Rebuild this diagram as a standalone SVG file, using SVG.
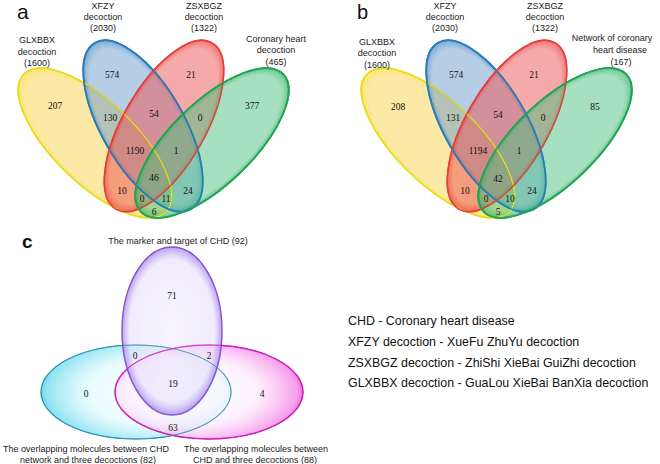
<svg xmlns="http://www.w3.org/2000/svg" width="660" height="464" viewBox="0 0 660 464">
<defs>
<style>
.lbl{font-family:"Liberation Sans",Arial,sans-serif;font-size:9px;fill:#222;text-anchor:middle}
.num{font-family:"Liberation Serif","Times New Roman",serif;font-size:9.5px;fill:#111;text-anchor:middle}
.leg{font-family:"Liberation Sans",Arial,sans-serif;font-size:12.4px;fill:#111}
.pl{font-family:"Liberation Sans",Arial,sans-serif;fill:#111}
.ye{fill:url(#gY);stroke:#e6dc1e;stroke-width:1.6}
.bl{fill:url(#gB);stroke:#2a7db8;stroke-width:1.8}
.re{fill:url(#gR);stroke:#e2403c;stroke-width:1.6}
.gr{fill:url(#gG);stroke:#22a455;stroke-width:1.8}
.cy{fill:url(#gC);stroke:#2fa6c4;stroke-width:1.2}
.ma{fill:url(#gM);stroke:#cc22bb;stroke-width:1.4}
.pu{fill:url(#gP);stroke:#8552d4;stroke-width:1.4}
</style>
<radialGradient id="gY"><stop offset="0" stop-color="#fbd34d" stop-opacity="0.5"/><stop offset="0.9" stop-color="#fbd34d" stop-opacity="0.5"/><stop offset="1" stop-color="#f8e040" stop-opacity="0.75"/></radialGradient>
<radialGradient id="gB"><stop offset="0" stop-color="#6b9bcb" stop-opacity="0.5"/><stop offset="0.9" stop-color="#6b9bcb" stop-opacity="0.5"/><stop offset="1" stop-color="#3f86c4" stop-opacity="0.7"/></radialGradient>
<radialGradient id="gR"><stop offset="0" stop-color="#ed5353" stop-opacity="0.5"/><stop offset="0.9" stop-color="#ed5353" stop-opacity="0.5"/><stop offset="1" stop-color="#e83a3a" stop-opacity="0.7"/></radialGradient>
<radialGradient id="gG"><stop offset="0" stop-color="#4dc181" stop-opacity="0.5"/><stop offset="0.9" stop-color="#4dc181" stop-opacity="0.5"/><stop offset="1" stop-color="#2cb060" stop-opacity="0.7"/></radialGradient>
<radialGradient id="gC" cx="0.6" cy="0.5" r="0.6"><stop offset="0" stop-color="#ffffff" stop-opacity="0.3"/><stop offset="0.6" stop-color="#d8f8fc" stop-opacity="0.6"/><stop offset="0.95" stop-color="#7fe0f0" stop-opacity="0.85"/><stop offset="1" stop-color="#5cd2ea" stop-opacity="0.9"/></radialGradient>
<radialGradient id="gM" cx="0.4" cy="0.5" r="0.6"><stop offset="0" stop-color="#ffffff" stop-opacity="0.3"/><stop offset="0.6" stop-color="#fde4fa" stop-opacity="0.6"/><stop offset="0.95" stop-color="#f48ee8" stop-opacity="0.85"/><stop offset="1" stop-color="#e860dc" stop-opacity="0.9"/></radialGradient>
<radialGradient id="gP"><stop offset="0" stop-color="#f3effe" stop-opacity="0.6"/><stop offset="0.85" stop-color="#e6defc" stop-opacity="0.6"/><stop offset="1" stop-color="#a98ae8" stop-opacity="0.8"/></radialGradient>
</defs>
<rect width="660" height="464" fill="#fff"/>

<!-- panel a -->
<text class="pl" x="17" y="19" font-size="21">a</text>
<g id="a-glxbbx">
<ellipse class="ye" cx="95" cy="143" rx="99" ry="41" transform="rotate(44 95 143)"/>
</g>
<g id="a-xfzy">
<ellipse class="bl" cx="143" cy="126" rx="96" ry="41" transform="rotate(60 143 126)"/>
</g>
<g id="a-zsxbgz">
<ellipse class="re" cx="164" cy="126" rx="96" ry="41" transform="rotate(-60 164 126)"/>
</g>
<g id="a-chd">
<ellipse class="gr" cx="212" cy="143" rx="99" ry="41" transform="rotate(-44 212 143)"/>
</g>
<g id="a-outlines" fill="none">
<ellipse cx="95" cy="143" rx="99" ry="41" transform="rotate(44 95 143)" fill="none" stroke="#e6dc1e" stroke-width="1.2"/>
<ellipse cx="143" cy="126" rx="96" ry="41" transform="rotate(60 143 126)" fill="none" stroke="#2a7db8" stroke-width="1.6"/>
<ellipse cx="164" cy="126" rx="96" ry="41" transform="rotate(-60 164 126)" fill="none" stroke="#e2403c" stroke-width="1.2"/>
<ellipse cx="212" cy="143" rx="99" ry="41" transform="rotate(-44 212 143)" fill="none" stroke="#22a455" stroke-width="1.4"/>
</g>
<g id="a-labels">
<text class="lbl" x="103" y="8.5">XFZY</text><text class="lbl" x="103" y="19.5">decoction</text><text class="lbl" x="103" y="31">(2030)</text>
<text class="lbl" x="204" y="8.5">ZSXBGZ</text><text class="lbl" x="204" y="19.5">decoction</text><text class="lbl" x="204" y="31">(1322)</text>
<text class="lbl" x="37" y="43">GLXBBX</text><text class="lbl" x="37" y="54.5">decoction</text><text class="lbl" x="37" y="66">(1600)</text>
<text class="lbl" x="276" y="41.5">Coronary heart</text><text class="lbl" x="276" y="53">decoction</text><text class="lbl" x="276" y="64.5">(465)</text>
</g>
<g id="a-numbers">
<text class="num" x="55" y="108.5">207</text>
<text class="num" x="112" y="77.5">574</text>
<text class="num" x="191" y="77.5">21</text>
<text class="num" x="252" y="108.5">377</text>
<text class="num" x="110" y="120.5">130</text>
<text class="num" x="154" y="116.5">54</text>
<text class="num" x="200" y="120.5">0</text>
<text class="num" x="135" y="153.5">1190</text>
<text class="num" x="176" y="153.5">1</text>
<text class="num" x="154" y="180.5">46</text>
<text class="num" x="122" y="193.5">10</text>
<text class="num" x="188" y="193.5">24</text>
<text class="num" x="142" y="201.5">0</text>
<text class="num" x="166" y="201.5">11</text>
<text class="num" x="154" y="214.5">6</text>
</g>

<!-- panel b -->
<text class="pl" x="357" y="19" font-size="20">b</text>
<g id="b-glxbbx">
<ellipse class="ye" cx="438" cy="143" rx="99" ry="41" transform="rotate(44 438 143)"/>
</g>
<g id="b-xfzy">
<ellipse class="bl" cx="486" cy="126" rx="96" ry="41" transform="rotate(60 486 126)"/>
</g>
<g id="b-zsxbgz">
<ellipse class="re" cx="507" cy="126" rx="96" ry="41" transform="rotate(-60 507 126)"/>
</g>
<g id="b-chd">
<ellipse class="gr" cx="555" cy="143" rx="99" ry="41" transform="rotate(-44 555 143)"/>
</g>
<g id="b-outlines" fill="none">
<ellipse cx="438" cy="143" rx="99" ry="41" transform="rotate(44 438 143)" fill="none" stroke="#e6dc1e" stroke-width="1.2"/>
<ellipse cx="486" cy="126" rx="96" ry="41" transform="rotate(60 486 126)" fill="none" stroke="#2a7db8" stroke-width="1.6"/>
<ellipse cx="507" cy="126" rx="96" ry="41" transform="rotate(-60 507 126)" fill="none" stroke="#e2403c" stroke-width="1.2"/>
<ellipse cx="555" cy="143" rx="99" ry="41" transform="rotate(-44 555 143)" fill="none" stroke="#22a455" stroke-width="1.4"/>
</g>
<g id="b-labels">
<text class="lbl" x="445" y="8.5">XFZY</text><text class="lbl" x="445" y="19.5">decoction</text><text class="lbl" x="445" y="31">(2030)</text>
<text class="lbl" x="545" y="8.5">ZSXBGZ</text><text class="lbl" x="545" y="19.5">decoction</text><text class="lbl" x="545" y="31">(1322)</text>
<text class="lbl" x="377" y="44.5">GLXBBX</text><text class="lbl" x="377" y="56">decoction</text><text class="lbl" x="377" y="67.5">(1600)</text>
<text class="lbl" x="612" y="41">Network of coronary</text><text class="lbl" x="620" y="53">heart disease</text><text class="lbl" x="621" y="64.5">(167)</text>
</g>
<g id="b-numbers">
<text class="num" x="398" y="109.5">208</text>
<text class="num" x="456" y="77.5">574</text>
<text class="num" x="534" y="77.5">21</text>
<text class="num" x="595" y="109.5">85</text>
<text class="num" x="453" y="120.5">131</text>
<text class="num" x="498" y="117.5">54</text>
<text class="num" x="543" y="120.5">0</text>
<text class="num" x="478" y="153.5">1194</text>
<text class="num" x="519" y="153.5">1</text>
<text class="num" x="498" y="181.5">42</text>
<text class="num" x="465" y="193.5">10</text>
<text class="num" x="532" y="193.5">24</text>
<text class="num" x="486" y="201.5">0</text>
<text class="num" x="510" y="201.5">10</text>
<text class="num" x="498" y="214.5">5</text>
</g>

<!-- panel c -->
<text class="pl" x="22" y="248" font-size="19" font-weight="bold">c</text>
<g id="c-overlap82">
<ellipse class="cy" cx="136" cy="392" rx="95" ry="47"/>
</g>
<g id="c-overlap88">
<ellipse class="ma" cx="209" cy="392" rx="94" ry="47"/>
</g>
<g id="c-marker">
<ellipse class="pu" cx="172" cy="331" rx="50" ry="84"/>
</g>
<g id="c-outlines">
<ellipse cx="136" cy="392" rx="95" ry="47" fill="none" stroke="#2f8fa8" stroke-width="1" stroke-opacity="0.8"/>
<ellipse cx="209" cy="392" rx="94" ry="47" fill="none" stroke="#cc22bb" stroke-width="1" stroke-opacity="0.8"/>
</g>
<g id="c-labels">
<text class="lbl" x="178" y="243.5">The marker and target of CHD (92)</text>
<text class="lbl" x="86" y="452">The overlapping molecules between CHD</text>
<text class="lbl" x="88" y="462.5">network and three decoctions (82)</text>
<text class="lbl" x="256" y="452">The overlapping molecules between</text>
<text class="lbl" x="255" y="462.5">CHD and three decoctions (88)</text>
</g>
<g id="c-numbers">
<text class="num" x="172" y="298.5">71</text>
<text class="num" x="135" y="358.5">0</text>
<text class="num" x="209" y="358.5">2</text>
<text class="num" x="173" y="386.5">19</text>
<text class="num" x="86" y="396.5">0</text>
<text class="num" x="262" y="396.5">4</text>
<text class="num" x="173" y="430.5">63</text>
</g>

<g id="legend">
<text class="leg" x="348" y="325">CHD - Coronary heart disease</text>
<text class="leg" x="348" y="345.5">XFZY decoction - XueFu ZhuYu decoction</text>
<text class="leg" x="348" y="366.5">ZSXBGZ decoction - ZhiShi XieBai GuiZhi decoction</text>
<text class="leg" x="348" y="387">GLXBBX decoction - GuaLou XieBai BanXia decoction</text>
</g>
</svg>
